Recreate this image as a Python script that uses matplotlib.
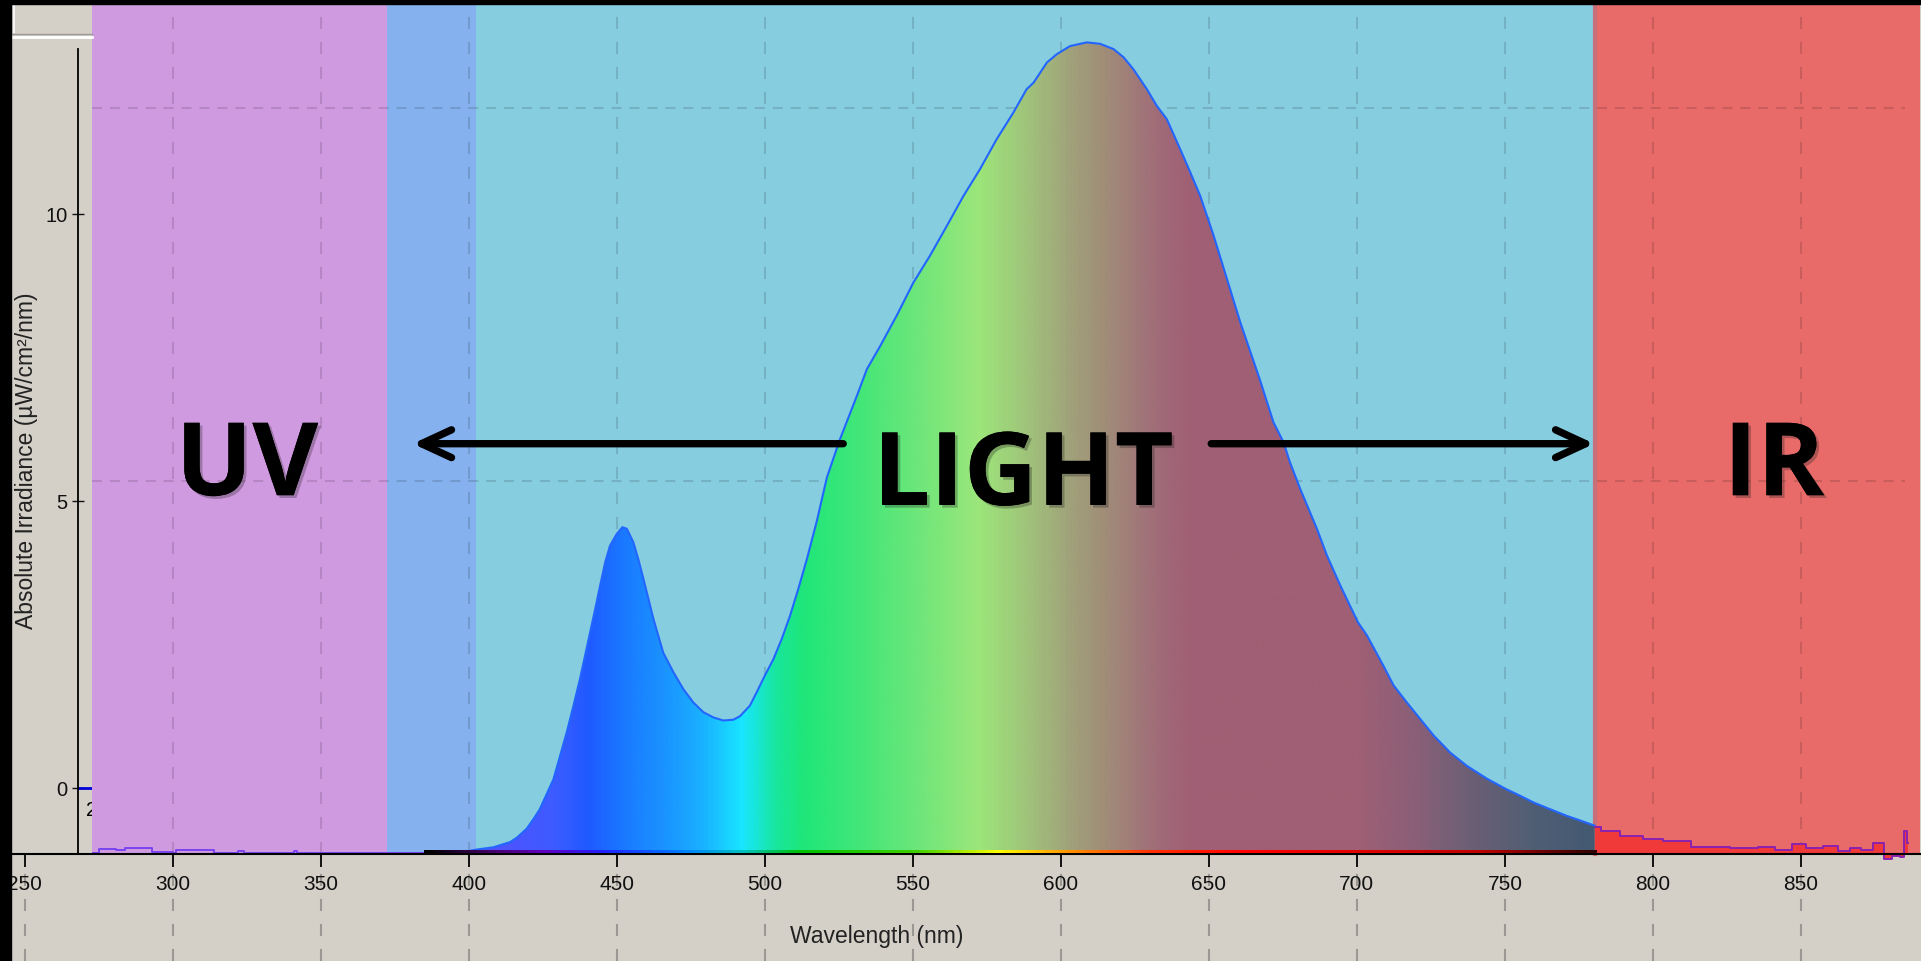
import numpy as np
import matplotlib.pyplot as plt
import matplotlib.patheffects as pe
from matplotlib.colors import LinearSegmentedColormap
from matplotlib.patches import Rectangle
from matplotlib.lines import Line2D

# spectrum of the lamp, visible part (nm, irradiance)
vis_wl = [395.0, 400.0, 402.7, 408.3, 414.0, 416.3, 419.6, 421.9, 424.0, 428.6, 430.9,
          433.1, 435.4, 437.6, 439.3, 441.0, 442.7, 444.4, 446.1, 447.7, 450.0,
          451.9, 453.4, 455.6, 457.3, 459.0, 460.7, 462.4, 465.7, 469.1, 472.5,
          475.9, 479.3, 482.7, 486.0, 489.4, 491.7, 495.0, 497.3, 500.0, 502.9,
          505.7, 508.5, 511.3, 514.2, 517.5, 521.0, 525.4, 531.1, 534.5, 539.0,
          544.6, 550.2, 555.8, 561.5, 567.1, 572.7, 578.3, 584.0, 588.4, 590.8,
          595.3, 598.6, 603.1, 608.8, 613.3, 617.8, 621.2, 624.5, 629.1, 632.4,
          635.8, 640.3, 643.7, 647.1, 651.6, 656.1, 660.6, 667.3, 671.8, 675.2,
          677.4, 680.9, 686.5, 689.9, 694.4, 700.3, 703.4, 709.0, 712.4, 716.9,
          721.4, 725.9, 731.5, 737.2, 743.9, 750.4, 755.2, 759.7, 765.3, 771.0,
          775.4, 780.3]
vis_irr = [0.02, 0.04, 0.06, 0.09, 0.16, 0.22, 0.34, 0.47, 0.60, 1.00, 1.32,
           1.63, 1.99, 2.35, 2.66, 2.97, 3.28, 3.60, 3.91, 4.13, 4.29,
           4.38, 4.36, 4.18, 3.95, 3.69, 3.42, 3.15, 2.70, 2.44, 2.21,
           2.03, 1.90, 1.83, 1.79, 1.80, 1.85, 1.99, 2.17, 2.39, 2.61,
           2.88, 3.19, 3.55, 3.95, 4.45, 5.05, 5.56, 6.14, 6.50, 6.81,
           7.22, 7.66, 8.02, 8.42, 8.82, 9.18, 9.58, 9.94, 10.25, 10.34,
           10.61, 10.72, 10.83, 10.88, 10.86, 10.79, 10.68, 10.52, 10.25, 10.03,
           9.85, 9.45, 9.14, 8.82, 8.29, 7.71, 7.13, 6.35, 5.79, 5.52,
           5.25, 4.89, 4.36, 4.00, 3.60, 3.11, 2.93, 2.52, 2.26, 2.03,
           1.81, 1.59, 1.36, 1.18, 1.01, 0.87, 0.78, 0.69, 0.60, 0.51,
           0.45, 0.38]

# infrared tail
ir_wl = [780.3, 784.3, 793.3, 800.0, 806.8, 819.2, 832.7, 838.4, 844.0, 849.6, 854.1,
         860.8, 864.2, 868.7, 872.1, 876.6, 879.4, 882.2, 884.5, 885.4, 886.2]
ir_irr = [0.36, 0.31, 0.24, 0.20, 0.17, 0.10, 0.08, 0.10, 0.06, 0.13, 0.08,
          0.11, 0.04, 0.08, 0.05, 0.15, -0.07, -0.03, -0.04, 0.31, 0.15]

# ultraviolet noise floor
uv_wl = [273, 275, 279, 281, 284, 291, 293, 298, 300, 301, 313, 314, 320, 322, 324,
         340, 341, 342, 372, 402]
uv_irr = [0.02, 0.07, 0.07, 0.05, 0.08, 0.08, 0.03, 0.03, 0.01, 0.05, 0.05, 0.01,
          0.02, 0.04, 0.01, 0.01, 0.04, 0.01, 0.01, 0.03]

x_ticks = list(range(250, 851, 50))
left_ticks = [0, 5, 10]
grid_y = [5, 10]

band_starts = [272.7, 372.4, 402.4, 780.2]
band_ends = [372.4, 402.4, 780.2, 890.2]
band_colors = ['#d09ae1', '#85b1ee', '#86cde0', '#e86b6a']

region_labels = ['UV', 'LIGHT', 'IR']
label_x = [325.1, 587.3, 840.9]
label_y = [4.81, 4.68, 4.81]

W, H = 1921, 962
BG = '#d4d0c8'
X0, X1 = 245.4, 890.2
Y0, Y1 = -1.434, 11.394


def fx(px):
    return px / W


def fy(py):
    return 1 - py / H


plt.rcParams['font.family'] = ['Liberation Sans', 'DejaVu Sans']
fig = plt.figure(figsize=(W / 100, H / 100), dpi=100, facecolor=BG)

# old y axis of the instrument screen
ax_l = fig.add_axes([fx(78), fy(855), fx(92) - fx(78), fy(50) - fy(855)])
ax_l.set_facecolor('none')
ax_l.set_ylim(-1.15, 12.87)
ax_l.set_xlim(0, 1)
for s in ['top', 'right', 'bottom']:
    ax_l.spines[s].set_visible(False)
ax_l.spines['left'].set_linewidth(1.3)
ax_l.set_xticks([])
ax_l.set_yticks(left_ticks)
ax_l.tick_params(axis='y', direction='inout', length=9, width=1, labelsize=14.5,
                 pad=3, colors='#111111')
ax_l.axhline(0, color='#0000d8', lw=2)
ax_l.text(0.57, -0.37, '2', fontsize=14.5, ha='left', va='center', clip_on=False)
ax_l.set_zorder(0)

ax = fig.add_axes([fx(11), 0, fx(1920) - fx(11), fy(5)])
ax.set_facecolor('none')
ax.set_zorder(1)

# coloured bands
for a, b, c in zip(band_starts, band_ends, band_colors):
    ax.fill_between([a, b], 0, Y1, color=c, lw=0, zorder=0.5)
ax.plot([780.5, 780.5], [0, Y1], color='#c8707a', lw=3, zorder=0.6)

# dashed grid
for x in x_ticks:
    if x > 272.7:
        ax.plot([x, x], [0, Y1], color='black', alpha=0.13, lw=1.5,
                ls=(0, (5.8, 6.2)), zorder=1)
    ax.plot([x, x], [Y0, 0], color='#9b9893', lw=1.5, ls=(0, (5.8, 6.2)), zorder=1)
for g in grid_y:
    ax.plot([272.7, 885], [g, g], color='black', alpha=0.13, lw=1.5,
            ls=(0, (4.8, 3.8)), zorder=1)

# spectrum filled with a colour gradient
stops = [(395, '#5a50f0'), (415, '#4a55ff'), (428, '#3c5cff'), (440, '#1e5aff'),
         (452, '#1a7aff'), (465, '#1a92ff'), (478, '#1ab0ff'), (492, '#18e6ff'),
         (503, '#18e6a0'), (512, '#1ee67a'), (530, '#40e678'), (550, '#6ae67a'),
         (572, '#9ce67a'), (590, '#a0c07a'), (605, '#a09e7a'), (620, '#a08478'),
         (635, '#a06878'), (645, '#a05f74'), (700, '#a05f74'), (720, '#8a5f78'),
         (740, '#6a5f75'), (760, '#505e74'), (781, '#435a72')]
grad = LinearSegmentedColormap.from_list(
    'grad', [((w - 395) / (781 - 395), c) for w, c in stops])
poly = ax.fill_between(vis_wl, 0, vis_irr, facecolor='none', edgecolor='none')
im = ax.imshow(np.linspace(0, 1, 800)[None, :], extent=[395, 781, 0, 11.5],
               aspect='auto', cmap=grad, interpolation='bilinear', zorder=2)
im.set_clip_path(poly.get_paths()[0], transform=ax.transData)
ax.plot(vis_wl, vis_irr, color='#2266ff', lw=1.5, zorder=3)

ax.fill_between(ir_wl, 0, ir_irr, step='mid', color='#f03a3a', lw=0, zorder=2)
ax.plot(ir_wl, ir_irr, drawstyle='steps-mid', color='#8a22b0', lw=1.4, zorder=3)
ax.plot(uv_wl, uv_irr, drawstyle='steps-post', color='#7a44f0', lw=1.4, zorder=3)

# thin wavelength colour strip along the axis
strip = LinearSegmentedColormap.from_list('strip', [
    (0.0, '#000000'), (0.05, '#400060'), (0.1, '#6000c0'), (0.15, '#2020ff'),
    (0.22, '#0080ff'), (0.27, '#00c0c0'), (0.32, '#00c000'), (0.42, '#40d000'),
    (0.49, '#ffff00'), (0.55, '#ff9000'), (0.62, '#ff3000'), (0.70, '#ff0000'),
    (0.90, '#c00000'), (1.0, '#300000')])
ax.imshow(np.linspace(0, 1, 400)[None, :], extent=[385, 781, 0.01, 0.045],
          aspect='auto', cmap=strip, zorder=3.5)

# arrows and region names
arrow = dict(arrowstyle='->,head_length=1.08,head_width=0.5', lw=5.3, color='black',
             shrinkA=0, shrinkB=0, mutation_scale=20, capstyle='round',
             joinstyle='round')
ax.annotate('', xy=(381.1, 5.5), xytext=(526.5, 5.5), arrowprops=arrow, zorder=5)
ax.annotate('', xy=(780.2, 5.5), xytext=(650.8, 5.5), arrowprops=arrow, zorder=5)
shadow = [pe.withSimplePatchShadow(offset=(2, -2), shadow_rgbFace='#202020', alpha=0.3),
          pe.Normal()]
for t, x, y in zip(region_labels, label_x, label_y):
    ax.text(x, y, t, fontsize=73, fontweight='bold', family='Open Sans', color='black',
            ha='center', va='baseline', zorder=6, path_effects=shadow)

ax.set_xlim(X0, X1)
ax.set_ylim(Y0, Y1)
for s in ['top', 'right', 'left']:
    ax.spines[s].set_visible(False)
ax.spines['bottom'].set_position(('data', 0))
ax.spines['bottom'].set_linewidth(1.5)
ax.spines['bottom'].set_zorder(3.4)
ax.set_yticks([])
ax.set_xticks(x_ticks)
ax.tick_params(axis='x', direction='out', length=9.5, width=1.4, pad=5,
               labelsize=15, colors='#111111')

fig.text(fx(27), fy(461), 'Absolute Irradiance (µW/cm²/nm)', rotation=90,
         ha='center', va='center', fontsize=16.5, color='#222222')
fig.text(fx(877), fy(937), 'Wavelength (nm)', ha='center', va='center',
         fontsize=16.5, color='#222222')

# window frame bits
fig.add_artist(Line2D([fx(11), fx(92)], [fy(35), fy(35)], color='#9c9a96', lw=1))
fig.add_artist(Line2D([fx(11), fx(92)], [fy(38), fy(38)], color='white', lw=2))
fig.add_artist(Line2D([fx(13.5), fx(13.5)], [fy(5), fy(33)], color='#f4f4f4', lw=1.5))
fig.add_artist(Rectangle((0, fy(5)), 1, 5 / H, transform=fig.transFigure,
                         color='black', zorder=20))
fig.add_artist(Rectangle((0, 0), fx(11), 1, transform=fig.transFigure,
                         color='black', zorder=20))

fig.savefig('out.png', dpi=100, facecolor=BG)
